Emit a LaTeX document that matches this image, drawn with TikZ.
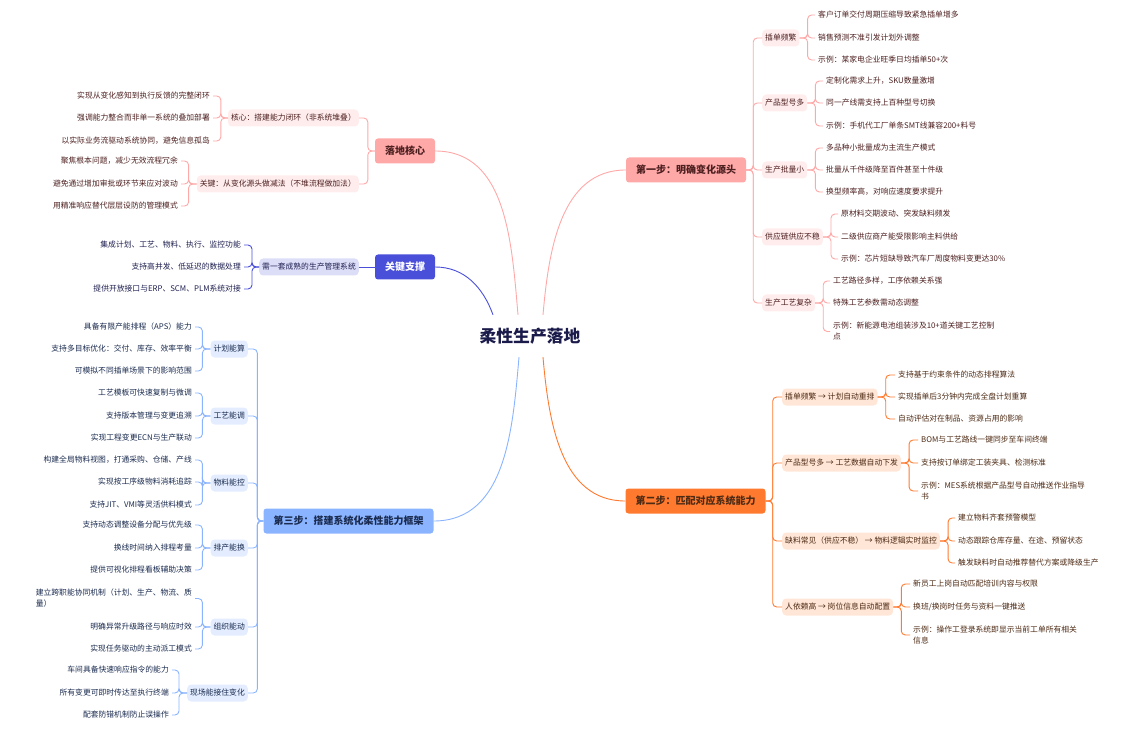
\documentclass[tikz,border=0pt]{standalone}
\usepackage{fontspec}
\setmainfont{Noto Sans CJK SC}

\definecolor{rootc}{HTML}{1B1B4B}
\definecolor{pinkc}{HTML}{FFA8A8}
\definecolor{pinkbg}{HTML}{FFEDED}
\definecolor{pinktx}{HTML}{4D1F1F}
\definecolor{orangec}{HTML}{FF7A2E}
\definecolor{orangebg}{HTML}{FFE6D6}
\definecolor{orangetx}{HTML}{4D2A14}
\definecolor{indigoc}{HTML}{4A4FD9}
\definecolor{indigobg}{HTML}{DCDDF7}
\definecolor{indigotx}{HTML}{1F2050}
\definecolor{bluec}{HTML}{8AB4FF}
\definecolor{bluebg}{HTML}{E3EDFF}
\definecolor{bluetx}{HTML}{1A2B4F}

\tikzset{
  root/.style={text=rootc, minimum width=100pt, minimum height=42pt, inner sep=0pt,
    font=\bfseries\fontsize{16.8}{20}\selectfont},
  topic/.style={rounded corners=3pt, inner xsep=10pt, inner ysep=0pt, minimum height=25pt,
    font=\bfseries\fontsize{10}{12}\selectfont},
  sub/.style={rounded corners=4pt, inner xsep=3pt, inner ysep=0pt, minimum height=17pt,
    font=\fontsize{7.8}{11}\selectfont},
  leaf/.style={inner xsep=3pt, inner ysep=2pt, align=left, font=\fontsize{7.8}{11}\selectfont},
  link/.style={line width=0.9pt, rounded corners=4pt},
  pinktopic/.style={topic, fill=pinkc, text=pinktx},
  pinksub/.style={sub, fill=pinkbg, text=pinktx},
  pinkleaf/.style={leaf, text=pinktx},
  pinklink/.style={link, draw=pinkc},
  orangetopic/.style={topic, fill=orangec, text=orangetx},
  orangesub/.style={sub, fill=orangebg, text=orangetx},
  orangeleaf/.style={leaf, text=orangetx},
  orangelink/.style={link, draw=orangec},
  indigotopic/.style={topic, fill=indigoc, text=white},
  indigosub/.style={sub, fill=indigobg, text=indigotx},
  indigoleaf/.style={leaf, text=indigotx},
  indigolink/.style={link, draw=indigoc},
  bluetopic/.style={topic, fill=bluec, text=bluetx},
  bluesub/.style={sub, fill=bluebg, text=bluetx},
  blueleaf/.style={leaf, text=bluetx},
  bluelink/.style={link, draw=bluec},
}

\begin{document}
\begin{tikzpicture}[x=1pt, y=-1pt]
      \useasboundingbox (0,0) rectangle (1136,730);

      % root
      \node[root] (root) at (530,336) {柔性生产落地};

      % main topics
      \node[pinktopic] (step1) at (686,170) {第一步：明确变化源头};
      \node[orangetopic] (step2) at (695.5,501) {第二步：匹配对应系统能力};
      \node[pinktopic] (core) at (405,151) {落地核心};
      \node[indigotopic] (support) at (405,267) {关键支撑};
      \node[bluetopic] (step3) at (348.5,521) {第三步：搭建系统化柔性能力框架};

      \draw[pinklink] (core.east) to[out=0, in=95] ([xshift=-12pt]root.north);
      \draw[indigolink] (support.east) to[out=0, in=110] ([xshift=-37pt]root.north);
      \draw[pinklink] ([xshift=13pt]root.north) to[out=85, in=180] (step1.west);
      \draw[bluelink] ([xshift=-11pt]root.south) to[out=-95, in=0] (step3.east);
      \draw[orangelink] ([xshift=13pt]root.south) to[out=-85, in=180] (step2.west);

      % step 1: sources of change
      \node[pinksub, anchor=west] (insert) at (762,38) {插单频繁};
      \node[pinksub, anchor=west] (models) at (762,103) {产品型号多};
      \node[pinksub, anchor=west] (batch) at (762,170) {生产批量小};
      \node[pinksub, anchor=west] (supply) at (762,237) {供应链供应不稳};
      \node[pinksub, anchor=west] (process) at (762,303) {生产工艺复杂};

      \node[pinkleaf, anchor=west] (insert1) at (815,15) {客户订单交付周期压缩导致紧急插单增多};
      \node[pinkleaf, anchor=west] (insert2) at (815,38) {销售预测不准引发计划外调整};
      \node[pinkleaf, anchor=west] (insert3) at (815,60) {示例：某家电企业旺季日均插单50+次};
      \node[pinkleaf, anchor=west] (models1) at (823,81) {定制化需求上升，SKU数量激增};
      \node[pinkleaf, anchor=west] (models2) at (823,103) {同一产线需支持上百种型号切换};
      \node[pinkleaf, anchor=west] (models3) at (823,126) {示例：手机代工厂单条SMT线兼容200+料号};
      \node[pinkleaf, anchor=west] (batch1) at (823,148) {多品种小批量成为主流生产模式};
      \node[pinkleaf, anchor=west] (batch2) at (823,170) {批量从千件级降至百件甚至十件级};
      \node[pinkleaf, anchor=west] (batch3) at (823,192) {换型频率高，对响应速度要求提升};
      \node[pinkleaf, anchor=west] (supply1) at (838,214) {原材料交期波动、突发缺料频发};
      \node[pinkleaf, anchor=west] (supply2) at (838,237) {二级供应商产能受限影响主料供给};
      \node[pinkleaf, anchor=west] (supply3) at (838,259) {示例：芯片短缺导致汽车厂周度物料变更达30\%};
      \node[pinkleaf, anchor=west] (process1) at (830,281) {工艺路径多样，工序依赖关系强};
      \node[pinkleaf, anchor=west] (process2) at (830,303) {特殊工艺参数需动态调整};
      \node[pinkleaf, anchor=west] (process3) at (830,331.5) {示例：新能源电池组装涉及10+道关键工艺控制\\点};

      \draw[pinklink] (step1.east) -- ++(7,0) |- (insert.west);
      \draw[pinklink] (step1.east) -- ++(7,0) |- (models.west);
      \draw[pinklink] (step1.east) -- ++(7,0) |- (batch.west);
      \draw[pinklink] (step1.east) -- ++(7,0) |- (supply.west);
      \draw[pinklink] (step1.east) -- ++(7,0) |- (process.west);

      \draw[pinklink] (insert.east) -- ++(8,0) |- (insert1.west);
      \draw[pinklink] (insert.east) -- ++(8,0) |- (insert2.west);
      \draw[pinklink] (insert.east) -- ++(8,0) |- (insert3.west);
      \draw[pinklink] (models.east) -- ++(8,0) |- (models1.west);
      \draw[pinklink] (models.east) -- ++(8,0) |- (models2.west);
      \draw[pinklink] (models.east) -- ++(8,0) |- (models3.west);
      \draw[pinklink] (batch.east) -- ++(8,0) |- (batch1.west);
      \draw[pinklink] (batch.east) -- ++(8,0) |- (batch2.west);
      \draw[pinklink] (batch.east) -- ++(8,0) |- (batch3.west);
      \draw[pinklink] (supply.east) -- ++(8,0) |- (supply1.west);
      \draw[pinklink] (supply.east) -- ++(8,0) |- (supply2.west);
      \draw[pinklink] (supply.east) -- ++(8,0) |- (supply3.west);
      \draw[pinklink] (process.east) -- ++(8,0) |- (process1.west);
      \draw[pinklink] (process.east) -- ++(8,0) |- (process2.west);
      \draw[pinklink] (process.east) -- ++(8,0) |- (process3.west);

      % step 2: matching system capabilities
      \node[orangesub, anchor=west] (replan) at (782,397) {插单频繁 → 计划自动重排};
      \node[orangesub, anchor=west] (dispatch) at (782,463) {产品型号多 → 工艺数据自动下发};
      \node[orangesub, anchor=west] (monitor) at (782,541) {缺料常见（供应不稳） → 物料逻辑实时监控};
      \node[orangesub, anchor=west] (config) at (782,607) {人依赖高 → 岗位信息自动配置};

      \node[orangeleaf, anchor=west] (replan1) at (895,375) {支持基于约束条件的动态排程算法};
      \node[orangeleaf, anchor=west] (replan2) at (895,397) {实现插单后3分钟内完成全盘计划重算};
      \node[orangeleaf, anchor=west] (replan3) at (895,419) {自动评估对在制品、资源占用的影响};
      \node[orangeleaf, anchor=west] (dispatch1) at (918,440) {BOM与工艺路线一键同步至车间终端};
      \node[orangeleaf, anchor=west] (dispatch2) at (918,463) {支持按订单绑定工装夹具、检测标准};
      \node[orangeleaf, anchor=west] (dispatch3) at (918,491) {示例：MES系统根据产品型号自动推送作业指导\\书};
      \node[orangeleaf, anchor=west] (monitor1) at (955,518) {建立物料齐套预警模型};
      \node[orangeleaf, anchor=west] (monitor2) at (955,541) {动态跟踪仓库存量、在途、预留状态};
      \node[orangeleaf, anchor=west] (monitor3) at (955,563) {触发缺料时自动推荐替代方案或降级生产};
      \node[orangeleaf, anchor=west] (config1) at (910,584) {新员工上岗自动匹配培训内容与权限};
      \node[orangeleaf, anchor=west] (config2) at (910,607) {换班/换岗时任务与资料一键推送};
      \node[orangeleaf, anchor=west] (config3) at (910,635) {示例：操作工登录系统即显示当前工单所有相关\\信息};

      \draw[orangelink] (step2.east) -- ++(7,0) |- (replan.west);
      \draw[orangelink] (step2.east) -- ++(7,0) |- (dispatch.west);
      \draw[orangelink] (step2.east) -- ++(7,0) |- (monitor.west);
      \draw[orangelink] (step2.east) -- ++(7,0) |- (config.west);

      \draw[orangelink] (replan.east) -- ++(8,0) |- (replan1.west);
      \draw[orangelink] (replan.east) -- ++(8,0) |- (replan2.west);
      \draw[orangelink] (replan.east) -- ++(8,0) |- (replan3.west);
      \draw[orangelink] (dispatch.east) -- ++(8,0) |- (dispatch1.west);
      \draw[orangelink] (dispatch.east) -- ++(8,0) |- (dispatch2.west);
      \draw[orangelink] (dispatch.east) -- ++(8,0) |- (dispatch3.west);
      \draw[orangelink] (monitor.east) -- ++(8,0) |- (monitor1.west);
      \draw[orangelink] (monitor.east) -- ++(8,0) |- (monitor2.west);
      \draw[orangelink] (monitor.east) -- ++(8,0) |- (monitor3.west);
      \draw[orangelink] (config.east) -- ++(8,0) |- (config1.west);
      \draw[orangelink] (config.east) -- ++(8,0) |- (config2.west);
      \draw[orangelink] (config.east) -- ++(8,0) |- (config3.west);

      % core of the rollout
      \node[pinksub, anchor=east] (loop) at (359,118) {核心：搭建能力闭环（非系统堆叠）};
      \node[pinksub, anchor=east] (reduce) at (359,184) {关键：从变化源头做减法（不堆流程做加法）};

      \node[pinkleaf, anchor=east] (loop1) at (213,96) {实现从变化感知到执行反馈的完整闭环};
      \node[pinkleaf, anchor=east] (loop2) at (213,118) {强调能力整合而非单一系统的叠加部署};
      \node[pinkleaf, anchor=east] (loop3) at (213,141) {以实际业务流驱动系统协同，避免信息孤岛};
      \node[pinkleaf, anchor=east] (reduce1) at (181,161) {聚焦根本问题，减少无效流程冗余};
      \node[pinkleaf, anchor=east] (reduce2) at (181,184) {避免通过增加审批或环节来应对波动};
      \node[pinkleaf, anchor=east] (reduce3) at (181,206) {用精准响应替代层层设防的管理模式};

      \draw[pinklink] (core.west) -- ++(-7,0) |- (loop.east);
      \draw[pinklink] (core.west) -- ++(-7,0) |- (reduce.east);

      \draw[pinklink] (loop.west) -- ++(-7,0) |- (loop1.east);
      \draw[pinklink] (loop.west) -- ++(-7,0) |- (loop2.east);
      \draw[pinklink] (loop.west) -- ++(-7,0) |- (loop3.east);
      \draw[pinklink] (reduce.west) -- ++(-8,0) |- (reduce1.east);
      \draw[pinklink] (reduce.west) -- ++(-8,0) |- (reduce2.east);
      \draw[pinklink] (reduce.west) -- ++(-8,0) |- (reduce3.east);

      % key support
      \node[indigosub, anchor=east] (mes) at (359,267) {需一套成熟的生产管理系统};

      \node[indigoleaf, anchor=east] (mes1) at (244,245) {集成计划、工艺、物料、执行、监控功能};
      \node[indigoleaf, anchor=east] (mes2) at (244,267) {支持高并发、低延迟的数据处理};
      \node[indigoleaf, anchor=east] (mes3) at (244,289) {提供开放接口与ERP、SCM、PLM系统对接};

      \draw[indigolink] (support.west) -- (mes.east);
      \draw[indigolink] (mes.west) -- ++(-7,0) |- (mes1.east);
      \draw[indigolink] (mes.west) -- ++(-7,0) |- (mes2.east);
      \draw[indigolink] (mes.west) -- ++(-7,0) |- (mes3.east);

      % step 3: capability framework
      \node[bluesub, anchor=east] (plan) at (248,349) {计划能算};
      \node[bluesub, anchor=east] (craft) at (248,416) {工艺能调};
      \node[bluesub, anchor=east] (material) at (248,483) {物料能控};
      \node[bluesub, anchor=east] (switch) at (248,548) {排产能换};
      \node[bluesub, anchor=east] (org) at (248,627) {组织能动};
      \node[bluesub, anchor=east] (floor) at (248,693) {现场能接住变化};

      \node[blueleaf, anchor=east] (plan1) at (195,327) {具备有限产能排程（APS）能力};
      \node[blueleaf, anchor=east] (plan2) at (195,349) {支持多目标优化：交付、库存、效率平衡};
      \node[blueleaf, anchor=east] (plan3) at (195,371) {可模拟不同插单场景下的影响范围};
      \node[blueleaf, anchor=east] (craft1) at (195,393) {工艺模板可快速复制与微调};
      \node[blueleaf, anchor=east] (craft2) at (195,416) {支持版本管理与变更追溯};
      \node[blueleaf, anchor=east] (craft3) at (195,438) {实现工程变更ECN与生产联动};
      \node[blueleaf, anchor=east] (material1) at (195,460) {构建全局物料视图，打通采购、仓储、产线};
      \node[blueleaf, anchor=east] (material2) at (195,482) {实现按工序级物料消耗追踪};
      \node[blueleaf, anchor=east] (material3) at (195,505) {支持JIT、VMI等灵活供料模式};
      \node[blueleaf, anchor=east] (switch1) at (195,525) {支持动态调整设备分配与优先级};
      \node[blueleaf, anchor=east] (switch2) at (195,548) {换线时间纳入排程考量};
      \node[blueleaf, anchor=east] (switch3) at (195,570) {提供可视化排程看板辅助决策};
      \node[blueleaf, anchor=east] (org1) at (195,598.5) {建立跨职能协同机制（计划、生产、物流、质\\量）};
      \node[blueleaf, anchor=east] (org2) at (195,627) {明确异常升级路径与响应时效};
      \node[blueleaf, anchor=east] (org3) at (195,649) {实现任务驱动的主动派工模式};
      \node[blueleaf, anchor=east] (floor1) at (172,670) {车间具备快速响应指令的能力};
      \node[blueleaf, anchor=east] (floor2) at (172,693) {所有变更可即时传达至执行终端};
      \node[blueleaf, anchor=east] (floor3) at (172,715) {配套防错机制防止误操作};

      \draw[bluelink] (step3.west) -- ++(-6,0) |- (plan.east);
      \draw[bluelink] (step3.west) -- ++(-6,0) |- (craft.east);
      \draw[bluelink] (step3.west) -- ++(-6,0) |- (material.east);
      \draw[bluelink] (step3.west) -- ++(-6,0) |- (switch.east);
      \draw[bluelink] (step3.west) -- ++(-6,0) |- (org.east);
      \draw[bluelink] (step3.west) -- ++(-6,0) |- (floor.east);

      \draw[bluelink] (plan.west) -- ++(-8,0) |- (plan1.east);
      \draw[bluelink] (plan.west) -- ++(-8,0) |- (plan2.east);
      \draw[bluelink] (plan.west) -- ++(-8,0) |- (plan3.east);
      \draw[bluelink] (craft.west) -- ++(-8,0) |- (craft1.east);
      \draw[bluelink] (craft.west) -- ++(-8,0) |- (craft2.east);
      \draw[bluelink] (craft.west) -- ++(-8,0) |- (craft3.east);
      \draw[bluelink] (material.west) -- ++(-8,0) |- (material1.east);
      \draw[bluelink] (material.west) -- ++(-8,0) |- (material2.east);
      \draw[bluelink] (material.west) -- ++(-8,0) |- (material3.east);
      \draw[bluelink] (switch.west) -- ++(-8,0) |- (switch1.east);
      \draw[bluelink] (switch.west) -- ++(-8,0) |- (switch2.east);
      \draw[bluelink] (switch.west) -- ++(-8,0) |- (switch3.east);
      \draw[bluelink] (org.west) -- ++(-8,0) |- (org1.east);
      \draw[bluelink] (org.west) -- ++(-8,0) |- (org2.east);
      \draw[bluelink] (org.west) -- ++(-8,0) |- (org3.east);
      \draw[bluelink] (floor.west) -- ++(-8,0) |- (floor1.east);
      \draw[bluelink] (floor.west) -- ++(-8,0) |- (floor2.east);
      \draw[bluelink] (floor.west) -- ++(-8,0) |- (floor3.east);
    \end{tikzpicture}
\end{document}
